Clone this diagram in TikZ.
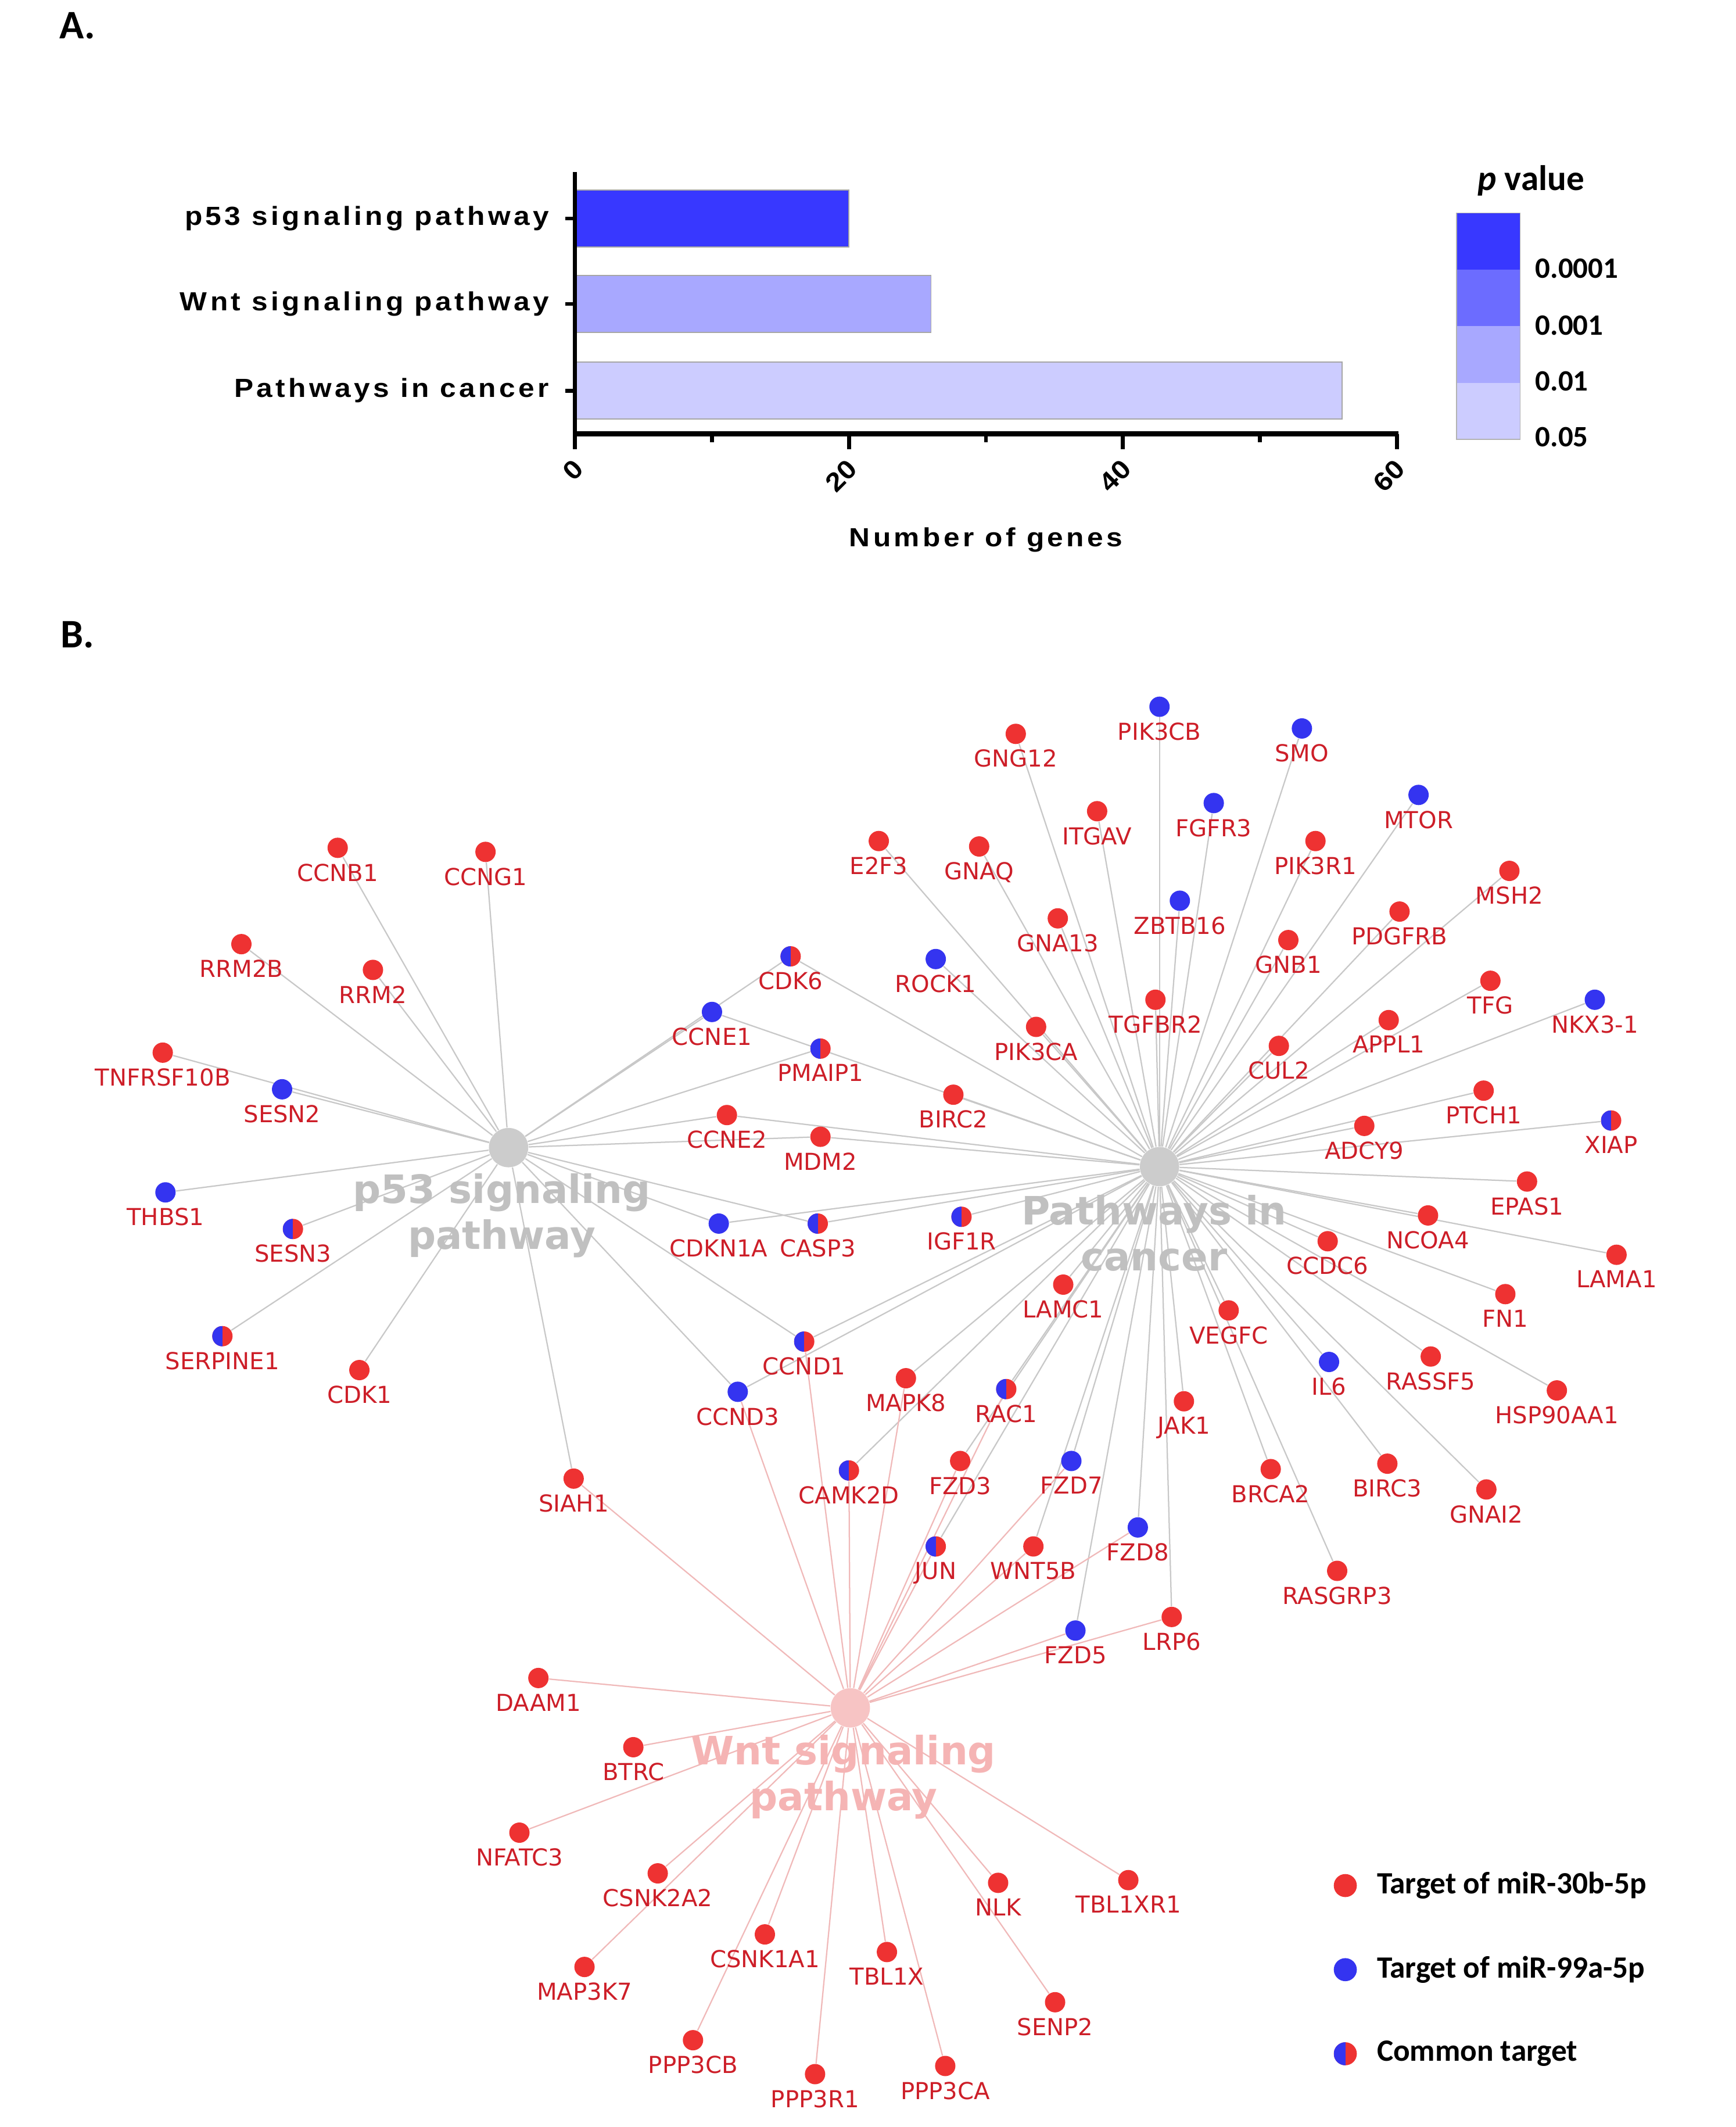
\documentclass[tikz,border=0pt]{standalone}
\usepackage{fontspec}
\setmainfont{DejaVu Sans}
\newfontfamily\chartfont[FakeStretch=1.1, LetterSpace=12]{Liberation Sans}
\newfontfamily\tickfont[FakeStretch=1.1]{Liberation Sans}
\newfontfamily\keyfont{Carlito}
\usetikzlibrary{backgrounds}

\definecolor{tred}{RGB}{238,50,50}
\definecolor{tblue}{RGB}{52,52,240}
\definecolor{gtxt}{RGB}{205,30,40}
\definecolor{hubgray}{RGB}{204,204,204}
\definecolor{hubtxt}{RGB}{192,192,192}
\definecolor{wntpink}{RGB}{247,196,196}
\definecolor{wnttxt}{RGB}{245,180,180}
\definecolor{edgegray}{RGB}{200,200,200}
\definecolor{edgepink}{RGB}{240,185,185}
\definecolor{pv1}{RGB}{56,56,255}
\definecolor{pv2}{RGB}{108,108,255}
\definecolor{pv3}{RGB}{168,168,255}
\definecolor{pv4}{RGB}{204,204,255}

\tikzset{%
  % Specifications for style of nodes:
  gene/.style = {
    circle,
    inner sep=0pt,
    minimum size=0.3cm
  },
  red gene/.style={gene, fill=tred},
  blue gene/.style={gene, fill=tblue},
  common gene/.style={gene, fill=tred,
    path picture={\fill[tblue] (path picture bounding box.south west)
      rectangle (path picture bounding box.north);}},
  gtext/.style={text=gtxt, inner sep=0pt, yshift=-2pt,
    font=\fontsize{9.8}{11}\selectfont},
  hub/.style={circle, inner sep=0pt, minimum size=0.58cm},
  hubtext/.style={align=center, font=\fontsize{16.4}{19.3}\selectfont\bfseries},
  link/.style={draw=edgegray, line width=0.55pt},
  wlink/.style={draw=edgepink, line width=0.55pt},
  axislabel/.style={font=\chartfont\bfseries\fontsize{11}{13}\selectfont},
  ticklabel/.style={font=\tickfont\bfseries\fontsize{11}{13}\selectfont,
    rotate=45, anchor=east, inner sep=1pt},
  key/.style={font=\keyfont\bfseries\fontsize{12.4}{14}\selectfont},
  keytext/.style={font=\keyfont\bfseries\fontsize{13}{15}\selectfont,
    anchor=west, inner sep=0pt},
  panel/.style={font=\keyfont\bfseries\fontsize{17}{20}\selectfont},
}

\begin{document}
\begin{tikzpicture}[x=0.02cm, y=-0.02cm]
  \useasboundingbox (0,0) rectangle (1280,1568);

  % panel A: bar chart
  \node[panel] (labA) at (57,19) {A.};
  \foreach \y/\n/\c/\t in {140/20/pv1/p53 signaling pathway,
      203/26/pv3/Wnt signaling pathway, 267/56/pv4/Pathways in cancer} {
    \filldraw[fill=\c, draw=gray!70, line width=0.4pt]
      (424,\y) rectangle ({424+10.1*\n},\y+42);
    \draw[line width=1.6pt] (417,\y+21) -- (424,\y+21);
    \node[axislabel, anchor=east] at (411,\y+21) {\t};
  }
  \draw[line width=1.7pt] (424,127) -- (424,321);
  \draw[line width=2.2pt] (423,320) -- (1031,320);
  \foreach \v in {0,20,40,60} {
    \draw[line width=1.6pt] ({424+10.1*\v},320) -- ++(0,11);
    \node[ticklabel] at ({428+10.1*\v},341) {\v};
  }
  \foreach \v in {10,30,50}
    \draw[line width=1.6pt] ({424+10.1*\v},320) -- ++(0,6);
  \node[axislabel] (xlab) at (727,398) {Number of genes};

  % p value scale
  \foreach \c [count=\i] in {pv1,pv2,pv3,pv4}
    \fill[\c] (1074,{157+41.75*(\i-1)}) rectangle (1121,{157+41.75*\i});
  \draw[gray!60, line width=0.4pt] (1074,157) rectangle (1121,324);
  \foreach \t/\y in {0.0001/198, 0.001/240, 0.01/281, 0.05/322}
    \node[key, anchor=west] at (1126,\y) {\t};
  \node[key, font=\keyfont\bfseries\fontsize{14.9}{17}\selectfont]
    (ptitle) at (1129,133) {\textit{p} value};

  % panel B: network
  \node[panel] (labB) at (57,468) {B.};

  % hubs
  \node[hub, fill=hubgray] (p53) at (375,846) {};
  \node[hub, fill=hubgray] (cancer) at (855,860) {};
  \node[hub, fill=wntpink] (wnt) at (627,1259) {};

  % genes
  \foreach \g/\x/\y in {CCNB1/249/625, CCNG1/358/628, RRM2B/178/696,
      RRM2/275/715, TNFRSF10B/120/776, CDK1/265/1010, SIAH1/423/1090,
      CCNE2/536/822, MDM2/605/838, MAPK8/668/1016, FZD3/708/1077,
      WNT5B/762/1140, LRP6/864/1192, LAMC1/784/947, E2F3/648/620,
      GNAQ/722/624, GNG12/749/541, ITGAV/809/598, GNA13/780/677,
      PIK3CA/764/757, BIRC2/703/807, TGFBR2/852/737, PIK3R1/970/620,
      GNB1/950/693, PDGFRB/1032/672, MSH2/1113/642, CUL2/943/771,
      APPL1/1024/752, TFG/1099/723, PTCH1/1094/804, ADCY9/1006/830,
      EPAS1/1126/871, NCOA4/1053/896, CCDC6/979/915, LAMA1/1192/925,
      FN1/1110/954, VEGFC/906/966, RASSF5/1055/1000, HSP90AA1/1148/1025,
      JAK1/873/1033, BRCA2/937/1083, BIRC3/1023/1079, GNAI2/1096/1098,
      RASGRP3/986/1158, DAAM1/397/1237, BTRC/467/1288, NFATC3/383/1351,
      CSNK2A2/485/1381, MAP3K7/431/1450, CSNK1A1/564/1426,
      PPP3CB/511/1504, PPP3R1/601/1529, TBL1X/654/1439, PPP3CA/697/1523,
      NLK/736/1388, SENP2/778/1476, TBL1XR1/832/1386}
    \node[red gene, label={[gtext]below:\g}] (\g) at (\x,\y) {};
  \foreach \g/\x/\y in {SESN2/208/803, THBS1/122/879, CCNE1/525/746,
      CDKN1A/530/902, CCND3/544/1026, FZD7/790/1077, FZD8/839/1126,
      FZD5/793/1202, PIK3CB/855/521, ROCK1/690/707, ZBTB16/870/664,
      FGFR3/895/592, SMO/960/537, MTOR/1046/586, NKX3-1/1176/737,
      IL6/980/1004}
    \node[blue gene, label={[gtext]below:\g}] (\g) at (\x,\y) {};
  \foreach \g/\x/\y in {SESN3/216/906, SERPINE1/164/985, CDK6/583/705,
      PMAIP1/605/773, CASP3/603/902, IGF1R/709/897, CCND1/593/989,
      RAC1/742/1024, CAMK2D/626/1084, JUN/690/1140, XIAP/1188/826}
    \node[common gene, label={[gtext]below:\g}] (\g) at (\x,\y) {};

  % lines
  \begin{scope}[on background layer]
    \foreach \g in {CCNB1, CCNG1, RRM2B, RRM2, TNFRSF10B, SESN2, THBS1,
        SESN3, SERPINE1, CDK1, SIAH1, CCNE1, CDK6, PMAIP1, CCNE2, MDM2,
        CDKN1A, CASP3, CCND1, CCND3}
      \draw[link] (p53) -- (\g);
    \foreach \g in {GNG12, PIK3CB, SMO, ITGAV, FGFR3, MTOR, E2F3, GNAQ,
        PIK3R1, ZBTB16, GNA13, MSH2, PDGFRB, GNB1, ROCK1, CDK6, TGFBR2,
        TFG, NKX3-1, CCNE1, PIK3CA, APPL1, CUL2, BIRC2, PTCH1, XIAP,
        ADCY9, CCNE2, MDM2, EPAS1, NCOA4, LAMA1, CCDC6, FN1, CASP3, IGF1R,
        CDKN1A, LAMC1, VEGFC, RASSF5, HSP90AA1, IL6, CCND1, CCND3, MAPK8,
        RAC1, JAK1, BIRC3, GNAI2, BRCA2, RASGRP3, FZD3, FZD7, FZD8, FZD5,
        LRP6, JUN, WNT5B, CAMK2D}
      \draw[link] (cancer) -- (\g);
    \foreach \g in {SIAH1, CCND1, CCND3, CAMK2D, MAPK8, RAC1, FZD3, FZD7,
        JUN, WNT5B, FZD8, FZD5, LRP6, DAAM1, BTRC, NFATC3, CSNK2A2,
        MAP3K7, CSNK1A1, PPP3CB, PPP3R1, TBL1X, PPP3CA, NLK, SENP2,
        TBL1XR1}
      \draw[wlink] (wnt) -- (\g);
  \end{scope}

  % hub titles
  \node[hubtext, text=hubtxt] (p53-t) at (370,896) {p53 signaling\\pathway};
  \node[hubtext, text=hubtxt] (cancer-t) at (851,909) {Pathways in\\cancer};
  \node[hubtext, text=wnttxt] (wnt-t) at (622,1310) {Wnt signaling\\pathway};

  % legend
  \node[red gene, minimum size=0.34cm] (keyred) at (992,1390) {};
  \node[blue gene, minimum size=0.34cm] (keyblue) at (992,1452) {};
  \node[common gene, minimum size=0.34cm] (keycommon) at (992,1514) {};
  \node[keytext] (keyred-t) at (1015,1390) {Target of miR-30b-5p};
  \node[keytext] (keyblue-t) at (1015,1452) {Target of miR-99a-5p};
  \node[keytext] (keycommon-t) at (1015,1514) {Common target};
\end{tikzpicture}
\end{document}
